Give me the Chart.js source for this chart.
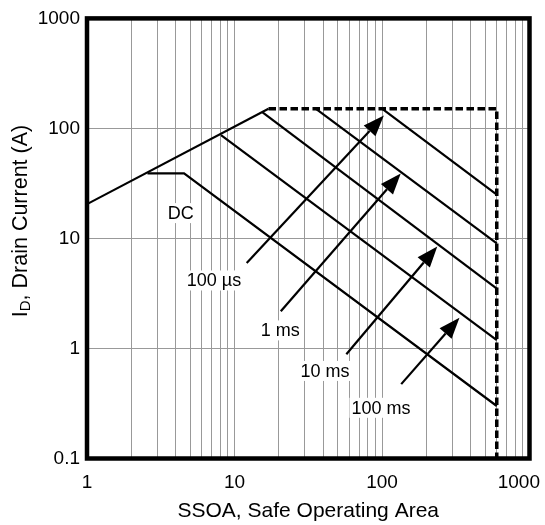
<!DOCTYPE html>
<html>
<head>
<meta charset="utf-8">
<script src="https://cdn.jsdelivr.net/npm/chart.js@4.4.1/dist/chart.umd.min.js"></script>
<style>
  html, body { margin: 0; padding: 0; background: #fff; }
  canvas { display: block; }
</style>
</head>
<body>
<canvas id="soa-chart" width="545" height="525"></canvas>
<script>
// --- DATA ---
const xTicks = [1, 10, 100, 1000];
const yTicks = [0.1, 1, 10, 100, 1000];

// Rds(on) limit
const rdsX = [1, 17];
const rdsY = [20.5, 151];
// package / voltage limit (dashed)
const limitX = [17, 600, 600];
const limitY = [151, 151, 0.1];
// pulse width lines
const us100X = [100, 600];
const us100Y = [151, 25];
const ms1X = [35.5, 600];
const ms1Y = [151, 9.0];
const ms10X = [15.5, 600];
const ms10Y = [140, 3.5];
const ms100X = [8.1, 600];
const ms100Y = [87, 1.19];
const dcX = [2.57, 4.55, 600];
const dcY = [39, 39, 0.3];

// labels and arrows (data coordinates)
const labelText = ['DC', '100 µs', '1 ms', '10 ms', '100 ms'];
const labelX = [4.32, 7.26, 20.4, 41.1, 98.4];
const labelY = [17.0, 4.15, 1.46, 0.625, 0.289];
const arrowTailX = [12.1, 20.6, 57.3, 135];
const arrowTailY = [5.97, 2.18, 0.887, 0.474];
const arrowTipX = [103, 134, 237, 335];
const arrowTipY = [131, 39, 8.47, 1.9];

const toPoints = (xs, ys) => xs.map((x, i) => ({ x, y: ys[i] }));

// minor grid positions for the x axis (1..9 per decade)
const xGrid = [];
for (let d = 1; d < 1000; d *= 10) {
    for (let m = 1; m < 10; m++) xGrid.push(m * d);
}
xGrid.push(1000);

const FONT = 'Liberation Sans, Arial, sans-serif';

function solid(xs, ys) {
    return {
        data: toPoints(xs, ys),
        borderColor: '#000',
        borderWidth: 2.2,
        pointRadius: 0,
        tension: 0,
        fill: false
    };
}

const annotate = {
    id: 'annotate',
    afterDatasetsDraw(chart) {
        const { ctx, scales: { x, y } } = chart;
        ctx.save();
        // arrows
        ctx.strokeStyle = '#000';
        ctx.fillStyle = '#000';
        ctx.lineWidth = 2.2;
        arrowTailX.forEach((tx, i) => {
            const x0 = x.getPixelForValue(tx), y0 = y.getPixelForValue(arrowTailY[i]);
            const x1 = x.getPixelForValue(arrowTipX[i]), y1 = y.getPixelForValue(arrowTipY[i]);
            const ang = Math.atan2(y1 - y0, x1 - x0);
            const len = 21, half = 8;
            const bx = x1 - len * Math.cos(ang), by = y1 - len * Math.sin(ang);
            ctx.beginPath();
            ctx.moveTo(x0, y0);
            ctx.lineTo(bx, by);
            ctx.stroke();
            ctx.beginPath();
            ctx.moveTo(x1, y1);
            ctx.lineTo(bx + half * Math.sin(ang), by - half * Math.cos(ang));
            ctx.lineTo(bx - half * Math.sin(ang), by + half * Math.cos(ang));
            ctx.closePath();
            ctx.fill();
        });
        // labels with white background
        ctx.font = '18px ' + FONT;
        ctx.textAlign = 'center';
        ctx.textBaseline = 'middle';
        labelText.forEach((t, i) => {
            const px = x.getPixelForValue(labelX[i]), py = y.getPixelForValue(labelY[i]);
            const w = ctx.measureText(t).width;
            ctx.fillStyle = '#fff';
            ctx.fillRect(px - w / 2 - 2, py - 10, w + 4, 20);
            ctx.fillStyle = '#000';
            ctx.fillText(t, px, py + 1);
        });
        ctx.restore();
    },
    afterDraw(chart) {
        const { ctx, chartArea: a, scales: { x } } = chart;
        ctx.save();
        // frame
        ctx.strokeStyle = '#000';
        ctx.lineWidth = 4.5;
        ctx.strokeRect(a.left, a.top, a.right - a.left, a.bottom - a.top);
        // x tick labels
        ctx.fillStyle = '#000';
        ctx.font = '19px ' + FONT;
        ctx.textAlign = 'center';
        ctx.textBaseline = 'middle';
        xTicks.forEach(v => {
            const t = String(v);
            const w = ctx.measureText(t).width;
            const px = Math.min(x.getPixelForValue(v), chart.width - 5 - w / 2);
            ctx.fillText(t, px, 483);
        });
        // x title
        ctx.font = '21px ' + FONT;
        ctx.fillText('SSOA, Safe Operating Area', (a.left + a.right) / 2, 511);
        // y title with subscript
        ctx.translate(21, 221);
        ctx.rotate(-Math.PI / 2);
        ctx.textAlign = 'left';
        const big = '21.5px ' + FONT, small = '15px ' + FONT;
        ctx.font = big;
        const wI = ctx.measureText('I').width;
        const rest = ', Drain Current (A)';
        const wR = ctx.measureText(rest).width;
        ctx.font = small;
        const wD = ctx.measureText('D').width;
        let sx = -(wI + wD + wR) / 2;
        ctx.font = big;
        ctx.fillText('I', sx, 0);
        ctx.font = small;
        ctx.fillText('D', sx + wI, 5);
        ctx.font = big;
        ctx.fillText(rest, sx + wI + wD, 0);
        ctx.restore();
    }
};

new Chart(document.getElementById('soa-chart'), {
    type: 'line',
    data: {
        datasets: [
            solid(rdsX, rdsY),
            {
                data: toPoints(limitX, limitY),
                borderColor: '#000',
                borderWidth: 3.5,
                borderDash: [7.5, 3.5],
                pointRadius: 0,
                tension: 0,
                fill: false
            },
            solid(us100X, us100Y),
            solid(ms1X, ms1Y),
            solid(ms10X, ms10Y),
            solid(ms100X, ms100Y),
            solid(dcX, dcY)
        ]
    },
    options: {
        responsive: false,
        animation: false,
        layout: { padding: { top: 17, right: 15.5, bottom: 0, left: 0 } },
        plugins: { legend: { display: false }, tooltip: { enabled: false } },
        scales: {
            x: {
                type: 'logarithmic',
                min: 1, max: 1000,
                afterBuildTicks: s => { s.ticks = xGrid.map(v => ({ value: v })); },
                afterFit: s => { s.height = 66.5; },
                grid: { color: '#999', lineWidth: 1, drawTicks: false },
                border: { display: false },
                ticks: { display: false }
            },
            y: {
                type: 'logarithmic',
                min: 0.1, max: 1000,
                afterBuildTicks: s => { s.ticks = yTicks.map(v => ({ value: v })); },
                afterFit: s => { s.width = 87; },
                grid: { color: '#999', lineWidth: 1, drawTicks: false },
                border: { display: false },
                ticks: {
                    color: '#000',
                    padding: 7,
                    font: { family: FONT, size: 19 },
                    callback: v => String(v)
                }
            }
        }
    },
    plugins: [annotate]
});
</script>
</body>
</html>
